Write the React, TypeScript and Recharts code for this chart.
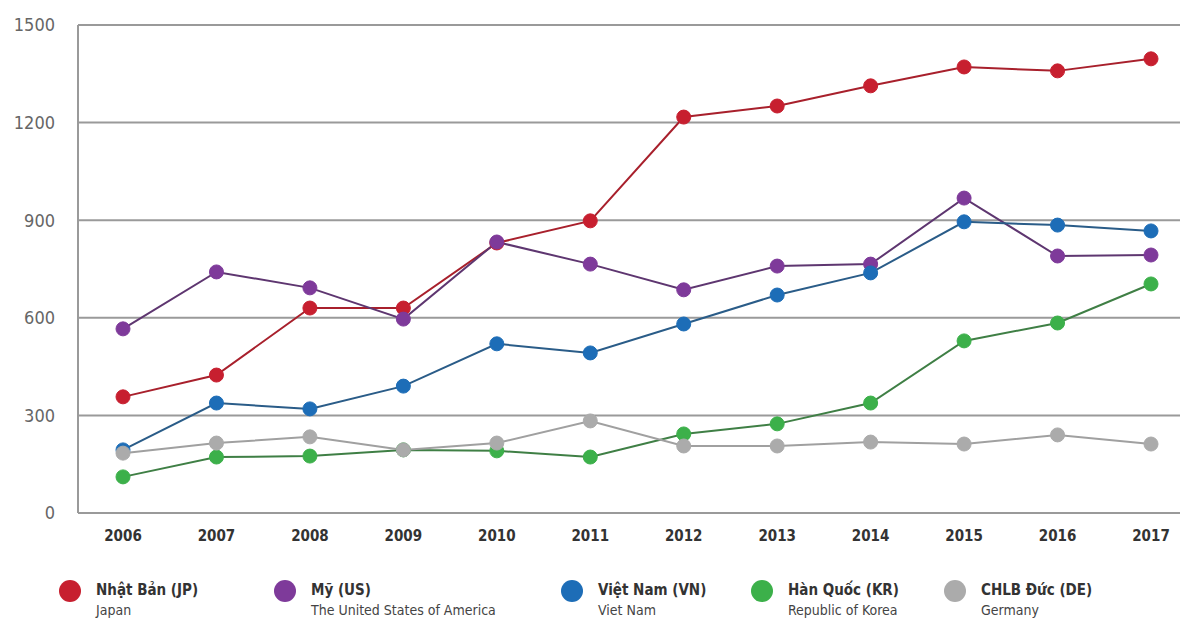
import { LineChart, Line, CartesianGrid, XAxis, YAxis } from "recharts";

const years = ["2006", "2007", "2008", "2009", "2010", "2011", "2012", "2013", "2014", "2015", "2016", "2017"];
const japan = [357, 424, 630, 630, 830, 898, 1217, 1251, 1313, 1371, 1359, 1396];
const usa = [566, 741, 692, 596, 833, 765, 686, 759, 765, 968, 790, 793];
const vietnam = [194, 338, 320, 390, 520, 492, 581, 670, 738, 895, 885, 867];
const korea = [111, 172, 175, 194, 191, 172, 243, 274, 338, 529, 584, 704];
const germany = [184, 215, 234, 194, 215, 283, 206, 206, 218, 212, 240, 212];
const yTicks = [0, 300, 600, 900, 1200, 1500];

const series = [
  { key: "jp", values: japan, color: "#c71f2f", line: "#a8202c", name: "Nhật Bản (JP)", sub: "Japan", x: 70 },
  { key: "us", values: usa, color: "#7e3a9a", line: "#5e3670", name: "Mỹ (US)", sub: "The United States of America", x: 285 },
  { key: "vn", values: vietnam, color: "#1d6db7", line: "#2a5c88", name: "Việt Nam (VN)", sub: "Viet Nam", x: 572 },
  { key: "kr", values: korea, color: "#3cb04a", line: "#3f7f45", name: "Hàn Quốc (KR)", sub: "Republic of Korea", x: 762 },
  { key: "de", values: germany, color: "#ababab", line: "#a0a0a0", name: "CHLB Đức (DE)", sub: "Germany", x: 955 },
];

const data = years.map((year, i) => {
  const row: Record<string, string | number> = { year };
  series.forEach((s) => (row[s.key] = s.values[i]));
  return row;
});

const font = "'DejaVu Sans Condensed', 'Liberation Sans Narrow', sans-serif";

export default function App() {
  return (
    <div style={{ position: "absolute", left: 0, top: 0, width: 1180, height: 619, background: "#fff", fontFamily: font }}>
      <LineChart width={1180} height={619} data={data} margin={{ top: 25, right: 0, left: 0, bottom: 66 }}>
        <CartesianGrid vertical={false} stroke="#9a9a9a" strokeWidth={2} />
        <XAxis
          dataKey="year"
          height={40}
          padding={{ left: 45, right: 29 }}
          axisLine={false}
          tickLine={false}
          tickMargin={11}
          tick={{ fill: "#333", fontSize: 15, fontWeight: 700, fontFamily: font }}
        />
        <YAxis
          width={78}
          domain={[0, 1500]}
          ticks={yTicks}
          axisLine={{ stroke: "#9a9a9a", strokeWidth: 2 }}
          tickLine={false}
          tickMargin={17}
          tick={{ fill: "#666", fontSize: 18, fontFamily: font }}
        />
        {series.map((s) => (
          <Line
            key={s.key}
            dataKey={s.key}
            stroke={s.line}
            strokeWidth={2}
            dot={{ r: 7, fill: s.color, stroke: s.color, strokeWidth: 1 }}
            isAnimationActive={false}
          />
        ))}
      </LineChart>
      {series.map((s) => (
        <div key={s.key} style={{ position: "absolute", left: s.x - 12, top: 580 }}>
          <span
            style={{
              position: "absolute",
              left: 1,
              top: 0,
              width: 22,
              height: 22,
              borderRadius: "50%",
              background: s.color,
            }}
          />
          <div style={{ marginLeft: 38, fontSize: 15, fontWeight: 700, color: "#333", whiteSpace: "nowrap", lineHeight: "20px" }}>
            {s.name}
          </div>
          <div style={{ marginLeft: 38, fontSize: 14, color: "#444", whiteSpace: "nowrap", lineHeight: "20px" }}>{s.sub}</div>
        </div>
      ))}
    </div>
  );
}
